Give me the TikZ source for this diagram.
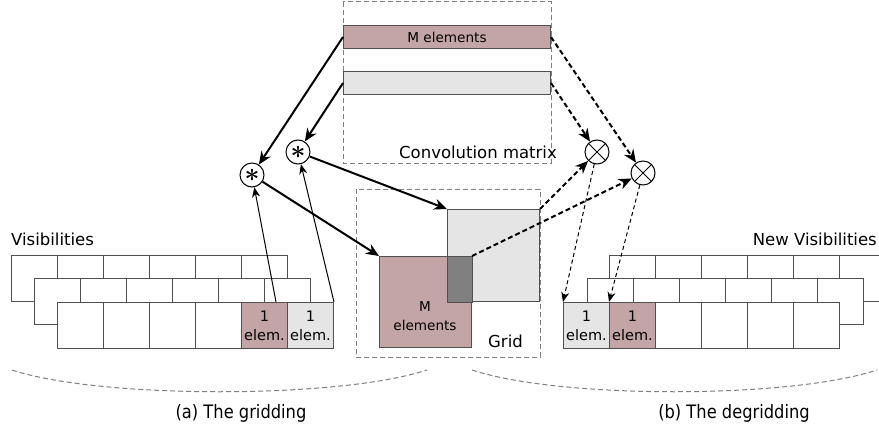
\documentclass[tikz,border=0pt]{standalone}
\usepackage{fontspec}
\usepackage{graphicx}
\usepackage{bm}
\setmainfont{DejaVu Sans}
\newfontfamily\capfont[FakeStretch=0.88]{DejaVu Sans}
\usetikzlibrary{arrows.meta}

\definecolor{rosy}{RGB}{196,165,165}
\definecolor{pale}{RGB}{229,229,229}
\definecolor{darkpatch}{RGB}{128,128,128}
\definecolor{edge}{RGB}{80,80,80}

\tikzset{
  cell/.style={draw=edge, fill=white, line width=1pt, minimum width=46pt, minimum height=46pt,
    inner sep=0pt, anchor=north west, align=center, font=\fontsize{14.5}{19}\selectfont},
  bar/.style={draw=edge, line width=1pt, minimum width=207pt, minimum height=23pt, inner sep=0pt,
    anchor=north west, font=\fontsize{13.6}{16}\selectfont},
  patch/.style={draw=edge, line width=1pt, minimum width=92pt, minimum height=92pt, inner sep=0pt,
    anchor=north west},
  frame/.style={draw=gray, line width=1pt, dash pattern=on 5pt off 3pt},
  op/.style={draw, circle, line width=1pt, minimum size=24pt, inner sep=0pt, fill=white},
  label/.style={font=\fontsize{16.5}{20}\selectfont, inner sep=0pt},
  feed/.style={line width=2pt, -{Stealth[length=13pt,width=11pt]}},
  back/.style={feed, dash pattern=on 5pt off 3pt},
  pick/.style={line width=1pt, -{Stealth[length=10pt,width=8pt]}},
  put/.style={pick, dash pattern=on 4pt off 3pt},
}
\newcommand{\convstar}{\scalebox{2.6}{$\bm{\ast}$}}

\begin{document}
\begin{tikzpicture}[x=1pt,y=-1pt]
    \useasboundingbox (0,0) rectangle (879,428);

    % frames
    \draw[frame] (343,2) rectangle (551,163);
    \draw[frame] (356,189) rectangle (540,357);

    % convolution matrix
    \node[bar,fill=rosy] (mbar) at (343,25) {M elements};
    \node[bar,fill=pale] (gbar) at (343,71) {};
    \node[label,anchor=base east] (convtxt) at (557,158) {Convolution matrix};

    % grid
    \node[patch,fill=pale] (gsq) at (447,209) {};
    \node[patch,fill=rosy,minimum height=91pt] (msq) at (379,256) {};
    \filldraw[draw=edge,line width=1pt,fill=darkpatch] (gsq.south west) rectangle (msq.north east);
    \node[align=center,font=\fontsize{13.6}{19}\selectfont] (mtxt) at (425,316) {M\\elements};
    \node[label,anchor=base west] (gridtxt) at (488,347) {Grid};

    % visibilities
    \node[label,anchor=base west] (vistxt) at (11,245) {Visibilities};
    \foreach \r/\x/\y in {0/11/255,1/34/278} {
        \foreach \i in {0,...,5}
            \node[cell] (L\r\i) at (\x+46*\i,\y) {};
    }
    \foreach \i in {0,...,3}
        \node[cell] (L2\i) at (57+46*\i,302) {};
    \node[cell,fill=rosy] (L24) at (241,302) {1\\elem.};
    \node[cell,fill=pale] (L25) at (287,302) {1\\elem.};

    % new visibilities
    \node[label,anchor=base east] (newtxt) at (877,245) {New Visibilities};
    \foreach \r/\x/\y in {0/609/255,1/587/278} {
        \foreach \i in {0,...,5}
            \node[cell] (R\r\i) at (\x+46*\i,\y) {};
    }
    \node[cell,fill=pale] (R20) at (563,302) {1\\elem.};
    \node[cell,fill=rosy] (R21) at (609,302) {1\\elem.};
    \foreach \i in {2,...,5}
        \node[cell] (R2\i) at (563+46*\i,302) {};

    % operators
    \node[op] (c1) at (252,175) {};
    \node[op] (c2) at (298,152) {};
    \node (s1) at (c1) {\convstar};
    \node (s2) at (c2) {\convstar};
    \node[op] (m1) at (597,152) {};
    \node[op] (m2) at (643,173) {};
    \foreach \m in {m1,m2} {
        \draw[line width=1pt] (\m.north west) -- (\m.south east);
        \draw[line width=1pt] (\m.north east) -- (\m.south west);
    }

    % gridding
    \draw[feed] (mbar.west) -- (c1);
    \draw[feed] (gbar.west) -- (c2);
    \draw[feed] (c2) -- (gsq.north west);
    \draw[feed] (c1) -- (msq.north west);
    \draw[pick] ([xshift=-12pt]L24.north east) -- (c1);
    \draw[pick] (L25.north east) -- (c2);

    % degridding
    \draw[back] (mbar.east) -- (m2);
    \draw[back] (gbar.east) -- (m1);
    \draw[back] (gsq.north east) -- (m1);
    \draw[back] (msq.north east) -- (m2);
    \draw[put] (m1) -- (R20.north west);
    \draw[put] (m2) -- (R21.north west);

    % captions
    \draw[frame] (12,370) .. controls (100,399) and (339,399) .. (427,370);
    \draw[frame] (472,370) .. controls (560,399) and (789,399) .. (877,370);
    \node[font=\capfont\fontsize{18.5}{22}\selectfont,anchor=base] (capa) at (241,418) {(a) The gridding};
    \node[font=\capfont\fontsize{18.5}{22}\selectfont,anchor=base] (capb) at (734,418) {(b) The degridding};
\end{tikzpicture}
\end{document}
